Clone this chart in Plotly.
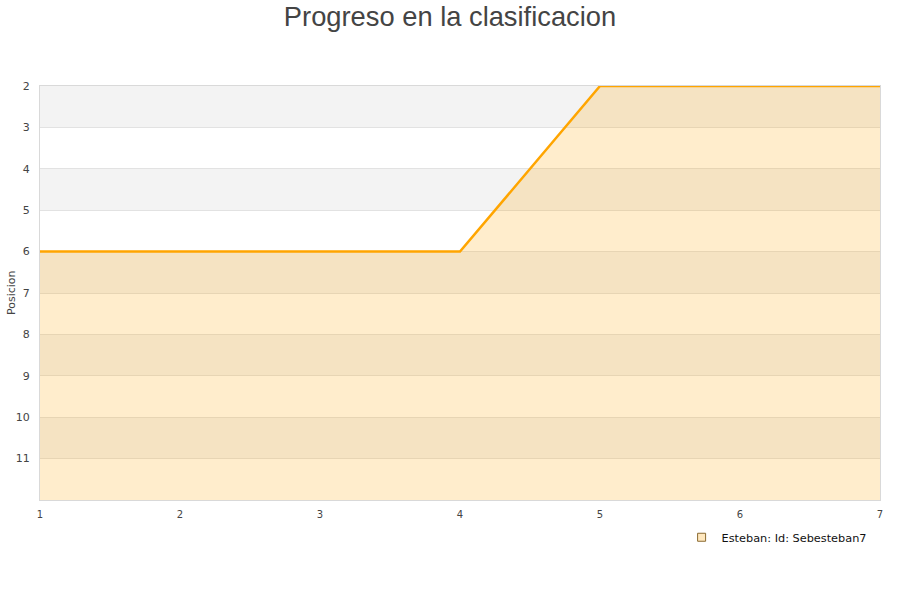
import plotly.graph_objects as go

jornadas = [1, 2, 3, 4, 5, 6, 7]
posicion = [6, 6, 6, 6, 2, 2, 2]
serie = "Esteban: Id: Sebesteban7"
y_ticks = [2, 3, 4, 5, 6, 7, 8, 9, 10, 11]
y_min, y_max = 2, 12
band_starts = [2, 4, 6, 8, 10]

fig = go.Figure()

# baseline for fill
fig.add_trace(go.Scatter(x=jornadas, y=[y_max] * len(jornadas), mode="lines",
                         line=dict(width=0), showlegend=False, hoverinfo="skip"))
fig.add_trace(go.Scatter(x=jornadas, y=posicion, mode="lines", fill="tonexty",
                         fillcolor="rgba(255,165,0,0.2)",
                         line=dict(color="#FFA500", width=2.5),
                         showlegend=False, name=serie))
# legend entry
fig.add_trace(go.Scatter(x=[None], y=[None], mode="markers", name=serie,
                         marker=dict(symbol="square", size=8,
                                     color="rgba(255,165,0,0.25)",
                                     line=dict(color="#8a6a30", width=1))))

for b in band_starts:
    fig.add_shape(type="rect", xref="paper", x0=0, x1=1, yref="y", y0=b, y1=b + 1,
                  fillcolor="#F3F3F3", line=dict(width=0), layer="below")

fig.update_layout(
    width=900, height=600,
    margin=dict(l=40, r=20, t=86, b=100),
    paper_bgcolor="white", plot_bgcolor="white",
    title=dict(text="Progreso en la clasificacion", x=0.5, xanchor="center",
               y=1 - 16 / 600, yanchor="middle",
               font=dict(family="Liberation Sans, Arial, sans-serif", size=27.3, color="#444444")),
    font=dict(family="DejaVu Sans, sans-serif", size=11, color="#444444"),
    xaxis=dict(range=[1, 7], tickvals=jornadas, showgrid=False, zeroline=False,
               showline=True, linecolor="#D9D9D9", linewidth=1, mirror=True,
               ticks="", tickfont=dict(size=10), ticklabelstandoff=5),
    yaxis=dict(range=[y_max, y_min], tickvals=y_ticks, showgrid=True,
               gridcolor="#E2E2E2", gridwidth=1, zeroline=False,
               showline=True, linecolor="#D9D9D9", linewidth=1, mirror=True,
               ticks="", tickfont=dict(size=11), automargin=False,
               ticklabelstandoff=7),
    legend=dict(x=0.99, xanchor="right", y=-0.09, yanchor="middle",
                bgcolor="rgba(0,0,0,0)", font=dict(size=11.3, color="#111111"),
                itemwidth=30),
    annotations=[dict(text="Posicion", xref="paper", yref="paper", x=0, y=0.5,
                      xanchor="center", yanchor="middle",
                      xshift=-29, textangle=-90, showarrow=False,
                      font=dict(size=11, color="#444444"))],
    showlegend=True,
)

fig.write_html("out.html", config={"displayModeBar": False},
               post_script="document.body.style.margin='0';")
